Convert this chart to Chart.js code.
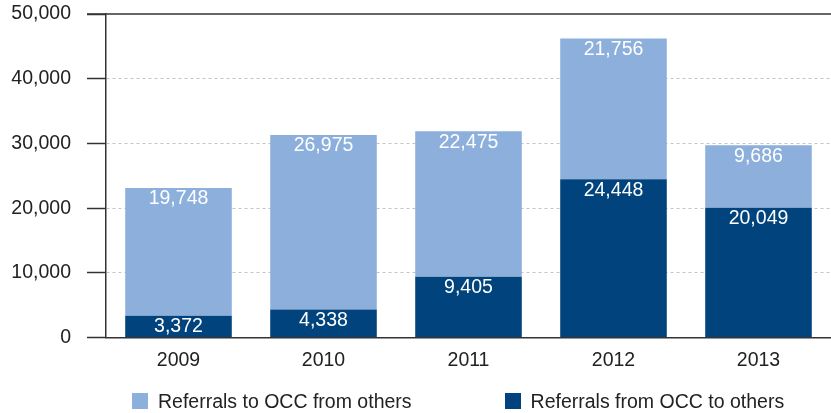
<!DOCTYPE html>
<html lang="en">
  <head>
    <meta charset="UTF-8" />
    <title>OCC Referrals</title>
    <script src="https://cdn.jsdelivr.net/npm/chart.js"></script>
    <style>
      html,
      body {
        margin: 0;
        padding: 0;
        background: #fff;
      }
      .wrap {
        position: relative;
        width: 831px;
        height: 413px;
      }
      .legend {
        position: absolute;
        left: 132px;
        top: 392px;
        display: flex;
        gap: 93px;
        font-family: "Liberation Sans", Arial, sans-serif;
        font-size: 19.5px;
        color: #222;
        line-height: 18px;
      }
      .legend span.item {
        display: flex;
        align-items: center;
      }
      .legend i {
        display: inline-block;
        width: 16px;
        height: 16px;
        margin-right: 10px;
      }
    </style>
  </head>
  <body>
    <div class="wrap">
      <canvas id="chart" width="831" height="413"></canvas>
      <div class="legend" id="legend"></div>
    </div>
    <script>
      // Data
      const years = ["2009", "2010", "2011", "2012", "2013"];
      const fromOcc = [3372, 4338, 9405, 24448, 20049];
      const toOcc = [19748, 26975, 22475, 21756, 9686];
      const yTicks = [0, 10000, 20000, 30000, 40000, 50000];

      const LIGHT = "#8cafdc";
      const DARK = "#01437c";
      const FONT = "'Liberation Sans', Arial, sans-serif";

      // Legend (HTML)
      const legendItems = [
        { label: "Referrals to OCC from others", color: LIGHT },
        { label: "Referrals from OCC to others", color: DARK },
      ];
      document.getElementById("legend").innerHTML = legendItems
        .map(
          (it) =>
            `<span class="item"><i style="background:${it.color}"></i>${it.label}</span>`
        )
        .join("");

      // Value labels inside each bar segment + solid line at the top of the y scale
      const barLabels = {
        id: "barLabels",
        afterDatasetsDraw(chart) {
          const ctx = chart.ctx;
          const area = chart.chartArea;
          const py = chart.scales.y.getPixelForValue(yTicks[yTicks.length - 1]);

          ctx.save();
          ctx.setLineDash([]);
          ctx.strokeStyle = "#333";
          ctx.lineWidth = 1.5;
          ctx.beginPath();
          ctx.moveTo(area.left - 19, py);
          ctx.lineTo(chart.width, py);
          ctx.stroke();

          ctx.font = `19.5px ${FONT}`;
          ctx.fillStyle = "#fff";
          ctx.textAlign = "center";
          ctx.textBaseline = "middle";
          chart.data.datasets.forEach((ds, i) => {
            chart.getDatasetMeta(i).data.forEach((bar, j) => {
              ctx.fillText(ds.data[j].toLocaleString("en-US"), bar.x, bar.y + 11);
            });
          });
          ctx.restore();
        },
      };

      Chart.defaults.font.family = FONT;
      Chart.defaults.font.size = 19.5;
      Chart.defaults.color = "#222";

      new Chart(document.getElementById("chart"), {
        type: "bar",
        data: {
          labels: years,
          datasets: [
            {
              label: "Referrals from OCC to others",
              data: fromOcc,
              backgroundColor: DARK,
            },
            {
              label: "Referrals to OCC from others",
              data: toOcc,
              backgroundColor: LIGHT,
            },
          ],
        },
        options: {
          responsive: false,
          animation: false,
          events: [],
          layout: { padding: { left: 0, top: 14, right: 0, bottom: 30 } },
          datasets: {
            bar: { barPercentage: 0.735, categoryPercentage: 1 },
          },
          plugins: {
            legend: { display: false },
            tooltip: { enabled: false },
          },
          scales: {
            x: {
              stacked: true,
              grid: { display: false, drawTicks: false },
              border: { display: true, color: "#333", width: 1.5 },
              ticks: { padding: 11 },
            },
            y: {
              stacked: true,
              min: 0,
              max: 50000,
              afterBuildTicks: (scale) => {
                scale.ticks = yTicks.map((v) => ({ value: v }));
              },
              afterFit: (scale) => {
                scale.width = 106;
                scale.paddingTop = 0;
              },
              ticks: {
                padding: 16,
                callback: (v) => v.toLocaleString("en-US"),
              },
              grid: {
                color: (c) =>
                  c.tick && (c.tick.value === 0 || c.tick.value === 50000)
                    ? "rgba(0,0,0,0)"
                    : "#c4c4c4",
                lineWidth: 1,
                tickColor: "#333",
                tickWidth: 1.5,
                tickLength: 19,
              },
              border: { display: true, color: "#333", width: 1.5, dash: [3, 3] },
            },
          },
        },
        plugins: [barLabels],
      });
    </script>
  </body>
</html>
